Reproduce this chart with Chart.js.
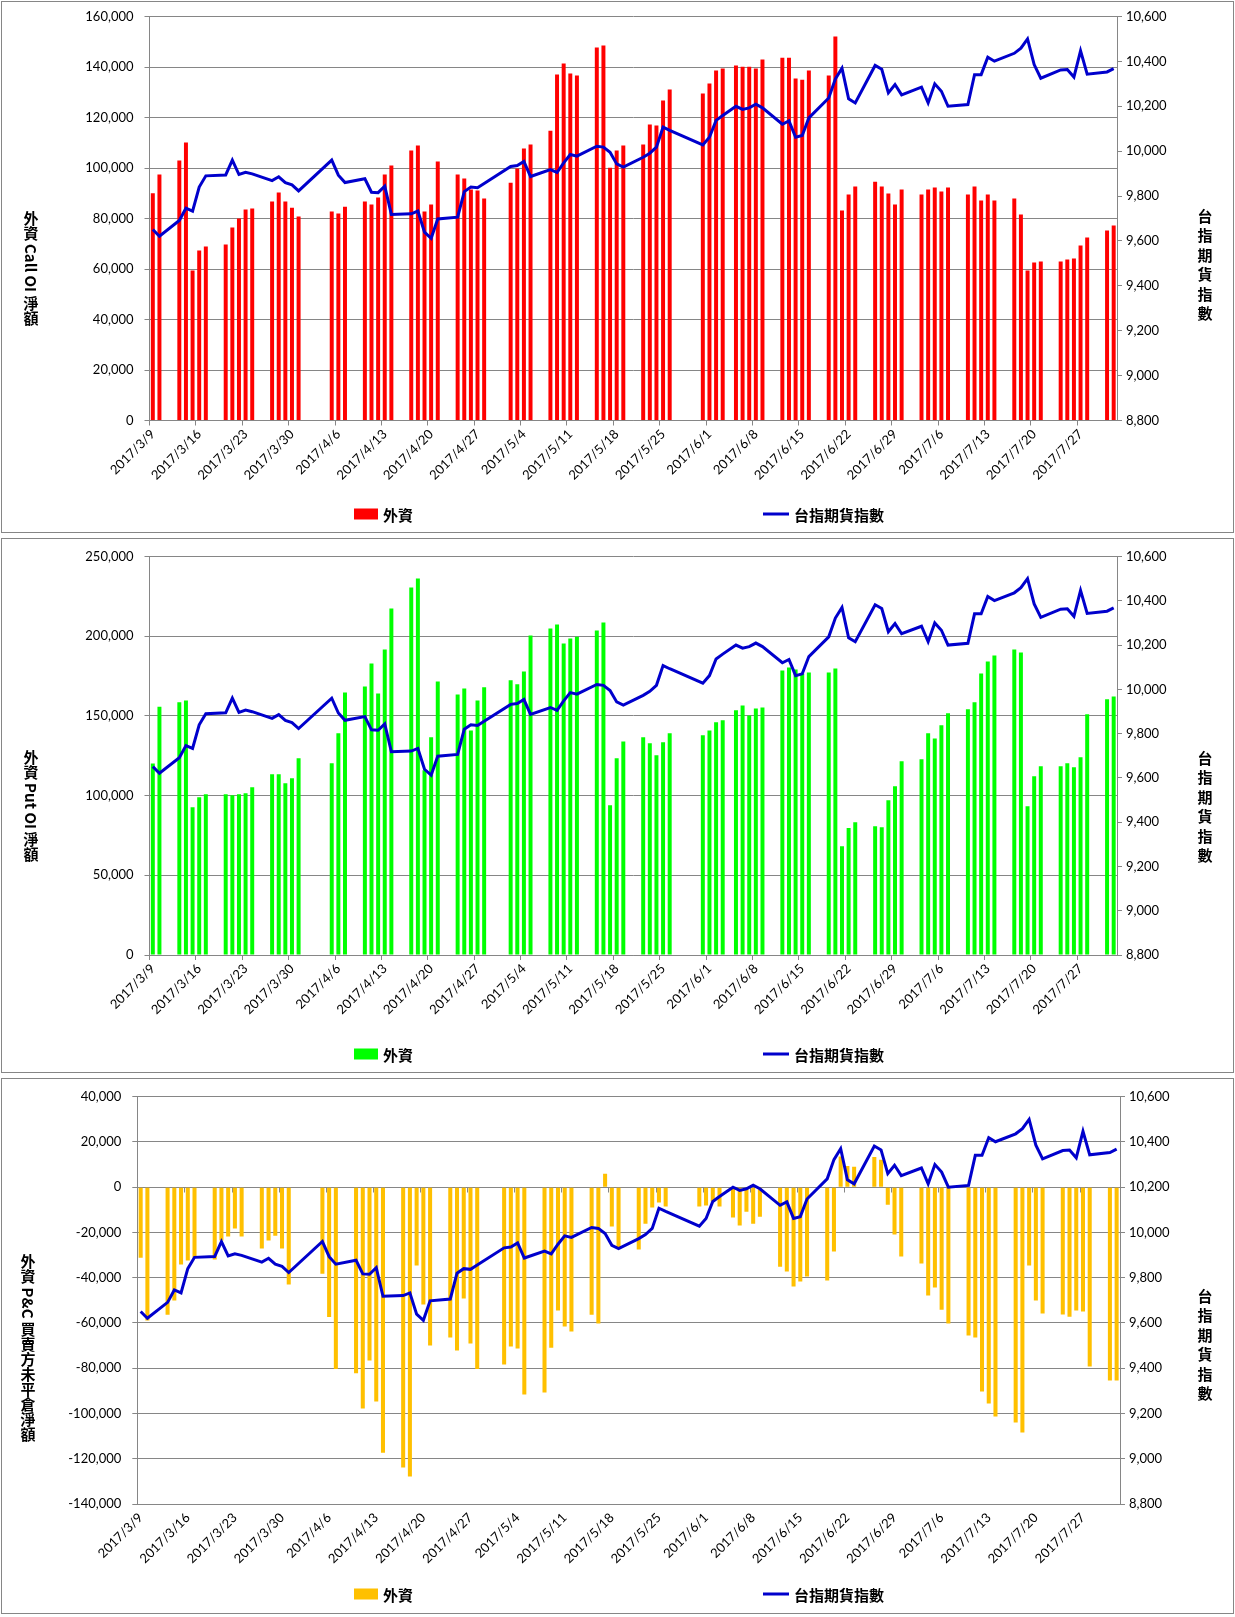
<!DOCTYPE html>
<html lang="zh-Hant">
<head>
<meta charset="utf-8">
<title>外資 Call / Put OI 淨額與台指期貨指數</title>
<script src="https://cdn.jsdelivr.net/npm/chart.js@4.4.1/dist/chart.umd.min.js"></script>
<style>
  html, body { margin: 0; padding: 0; background: #fff; }
  body { position: relative; width: 1235px; height: 1617px; overflow: hidden; }
  .panel { position: absolute; left: 1px; width: 1231px; border: 1px solid #868686; background: #fff; }
  .panel canvas { display: block; }
  .vtitle { position: absolute; transform: translate(-50%, -50%); writing-mode: vertical-rl;
    font: bold 15px "Noto Sans CJK TC", sans-serif; color: #000; white-space: nowrap; line-height: 1; }
  .vtitle.r { letter-spacing: 4.5px; }
  .leg { position: absolute; display: flex; align-items: center; transform: translateY(-50%);
    font: bold 15px "Noto Sans CJK TC", sans-serif; color: #000; white-space: nowrap; }
  .leg .box { width: 24px; height: 11px; margin-right: 5px; }
  .leg .ln { width: 26px; height: 3px; background: #0000cc; margin-right: 5px; }
</style>
</head>
<body>
<div class="panel" style="top:1px;height:530px"><canvas id="c1" width="1231" height="530"></canvas></div>
<div class="panel" style="top:538px;height:533px"><canvas id="c2" width="1231" height="533"></canvas></div>
<div class="panel" style="top:1078px;height:534px"><canvas id="c3" width="1231" height="534"></canvas></div>

<div class="vtitle" style="left:31px;top:268px">外資 Call OI 淨額</div>
<div class="vtitle r" style="left:1205px;top:267px">台指期貨指數</div>
<div class="leg" style="left:354px;top:514px"><span class="box" style="background:#ff0000"></span>外資</div>
<div class="leg" style="left:763px;top:514px"><span class="ln"></span>台指期貨指數</div>

<div class="vtitle" style="left:31px;top:806px">外資 Put OI 淨額</div>
<div class="vtitle r" style="left:1205px;top:809px">台指期貨指數</div>
<div class="leg" style="left:354px;top:1054px"><span class="box" style="background:#00ff00"></span>外資</div>
<div class="leg" style="left:763px;top:1054px"><span class="ln"></span>台指期貨指數</div>

<div class="vtitle" style="left:28px;top:1348px">外資 P&amp;C 買賣方未平倉淨額</div>
<div class="vtitle r" style="left:1205px;top:1347px">台指期貨指數</div>
<div class="leg" style="left:354px;top:1594px"><span class="box" style="background:#ffc000"></span>外資</div>
<div class="leg" style="left:763px;top:1594px"><span class="ln"></span>台指期貨指數</div>

<script>
// trading days shown in the chart
const tradeDates = [
  '2017/3/9','2017/3/10',
  '2017/3/13','2017/3/14','2017/3/15','2017/3/16','2017/3/17',
  '2017/3/20','2017/3/21','2017/3/22','2017/3/23','2017/3/24',
  '2017/3/27','2017/3/28','2017/3/29','2017/3/30','2017/3/31',
  '2017/4/5','2017/4/6','2017/4/7',
  '2017/4/10','2017/4/11','2017/4/12','2017/4/13','2017/4/14',
  '2017/4/17','2017/4/18','2017/4/19','2017/4/20','2017/4/21',
  '2017/4/24','2017/4/25','2017/4/26','2017/4/27','2017/4/28',
  '2017/5/2','2017/5/3','2017/5/4','2017/5/5',
  '2017/5/8','2017/5/9','2017/5/10','2017/5/11','2017/5/12',
  '2017/5/15','2017/5/16','2017/5/17','2017/5/18','2017/5/19',
  '2017/5/22','2017/5/23','2017/5/24','2017/5/25','2017/5/26',
  '2017/5/31','2017/6/1','2017/6/2','2017/6/3',
  '2017/6/5','2017/6/6','2017/6/7','2017/6/8','2017/6/9',
  '2017/6/12','2017/6/13','2017/6/14','2017/6/15','2017/6/16',
  '2017/6/19','2017/6/20','2017/6/21','2017/6/22','2017/6/23',
  '2017/6/26','2017/6/27','2017/6/28','2017/6/29','2017/6/30',
  '2017/7/3','2017/7/4','2017/7/5','2017/7/6','2017/7/7',
  '2017/7/10','2017/7/11','2017/7/12','2017/7/13','2017/7/14',
  '2017/7/17','2017/7/18','2017/7/19','2017/7/20','2017/7/21',
  '2017/7/24','2017/7/25','2017/7/26','2017/7/27','2017/7/28',
  '2017/7/31','2017/8/1'
];

// 外資 Call OI 淨額
const callNet = [
  90000, 97400,
  103000, 110100, 59400, 67300, 68900,
  69700, 76400, 80000, 83600, 84000,
  86700, 90300, 86700, 84300, 80800,
  82800, 82000, 84700,
  86700, 85500, 88300, 97400, 101000,
  106900, 108900, 82800, 85500, 102600,
  97400, 95800, 91500, 91100, 87900,
  94200, 99800, 107700, 109300,
  114800, 137000, 141400, 137400, 136600,
  147700, 148500, 100100, 106900, 108900,
  109300, 117200, 116800, 126700, 131100,
  129500, 133500, 138600, 139400,
  140600, 140100, 140100, 139400, 143000,
  143700, 143700, 135400, 135000, 138600,
  136600, 152100, 83200, 89500, 92700,
  94600, 92700, 89900, 85500, 91500,
  89500, 91500, 92300, 90700, 92300,
  89500, 92700, 87100, 89500, 87100,
  87900, 81600, 59400, 62600, 63000,
  63000, 63800, 64200, 69300, 72500,
  75200, 77200
];

// 外資 Put OI 淨額
const putNet = [
  120100, 155800,
  158500, 159700, 92700, 99000, 100800,
  100800, 100200, 100800, 101500, 105200,
  113400, 113400, 107700, 110900, 123400,
  120300, 139100, 164700,
  168500, 182900, 164100, 191700, 217400,
  230500, 236200, 115900, 136600, 171600,
  163500, 167200, 140900, 159700, 167900,
  172300, 169800, 177900, 200400,
  204800, 207300, 195400, 198600, 199600,
  203600, 208600, 94000, 123400, 134000,
  136600, 132800, 125300, 133400, 139100,
  137800, 140900, 146000, 147200,
  153500, 156600, 150300, 154700, 155300,
  178500, 180400, 179100, 176600, 177300,
  177300, 179800, 68300, 79600, 83300,
  80800, 80200, 97100, 105900, 121500,
  122800, 139100, 135900, 144100, 151600,
  154100, 158500, 176600, 184200, 187900,
  191700, 189800, 93300, 112100, 118400,
  118400, 120300, 117800, 124000, 151000,
  160400, 162200
];

// 外資 P&C 買賣方未平倉淨額
const pcNet = [
  -31200, -58900,
  -56400, -50100, -34200, -32400, -31200,
  -32000, -23600, -21800, -18300, -21800,
  -27100, -23600, -21400, -27100, -43000,
  -38200, -57400, -80300,
  -82200, -97800, -76600, -94700, -117300,
  -123900, -127900, -34600, -51800, -70000,
  -66400, -72200, -49200, -69100, -80300,
  -78400, -70400, -71300, -91600,
  -90700, -70900, -54500, -61600, -63800,
  -56400, -60200, 5900, -17400, -26700,
  -27500, -16100, -9000, -6800, -8500,
  -8500, -8100, -6300, -8500,
  -13400, -16900, -10800, -16100, -13000,
  -35100, -37300, -43900, -41700, -39500,
  -41200, -28400, 13600, 9400, 9000,
  13400, 12100, -7700, -20900, -30600,
  -33700, -47900, -44300, -54100, -60200,
  -65500, -66400, -90300, -95600, -101300,
  -104000, -108400, -34600, -50100, -55800,
  -56300, -57200, -54500, -54900, -79200,
  -85400, -85400
];

// 台指期貨指數
const futIndex = [
  9651, 9621,
  9691, 9746, 9733, 9840, 9890,
  9894, 9960, 9896, 9906, 9899,
  9869, 9886, 9860, 9850, 9823,
  9960, 9893, 9860,
  9877, 9817, 9815, 9844, 9718,
  9721, 9733, 9639, 9612, 9698,
  9706, 9820, 9840, 9837, 9856,
  9932, 9936, 9954, 9887,
  9918, 9905, 9948, 9985, 9978,
  10022, 10018, 9995, 9943, 9929,
  9973, 9991, 10018, 10107, 10093,
  10028, 10062, 10137, 10159,
  10200, 10186, 10193, 10209, 10193,
  10120, 10135, 10062, 10070, 10148,
  10237, 10322, 10370, 10233, 10215,
  10382, 10365, 10260, 10297, 10251,
  10285, 10215, 10300, 10267, 10200,
  10208, 10341, 10341, 10419, 10401,
  10436, 10459, 10500, 10386, 10325,
  10362, 10364, 10330, 10447, 10343,
  10353, 10368
];

// x-axis labels (one per week)
const weekTicks = [
  '2017/3/9','2017/3/16','2017/3/23','2017/3/30','2017/4/6','2017/4/13','2017/4/20',
  '2017/4/27','2017/5/4','2017/5/11','2017/5/18','2017/5/25','2017/6/1','2017/6/8',
  '2017/6/15','2017/6/22','2017/6/29','2017/7/6','2017/7/13','2017/7/20','2017/7/27'
];

// date axis: every calendar day from first to last trade date
const days = [];
(function () {
  const p = s => { const [y, m, d] = s.split('/').map(Number); return new Date(y, m - 1, d); };
  const end = p(tradeDates[tradeDates.length - 1]);
  for (let t = p(tradeDates[0]); t <= end; t.setDate(t.getDate() + 1)) {
    days.push(`${t.getFullYear()}/${t.getMonth() + 1}/${t.getDate()}`);
  }
})();

const tickSet = new Set(weekTicks);
const GRID = '#868686';
const fmt = v => Number(v).toLocaleString('en-US');
const tickFont = { family: 'Lato, "Liberation Sans", sans-serif', size: 13 };
// small line height so the label padding does not push the plot top down
const leftFont = { family: 'Lato, "Liberation Sans", sans-serif', size: 13, lineHeight: 0.5 };
const pairs = vals => vals.map((v, i) => ({ x: tradeDates[i], y: v }));

// Excel draws the date axis tick marks on the zero line for the P&C chart
const zeroTicks = {
  id: 'zeroTicks',
  beforeDatasetsDraw(chart, args, opts) {
    if (!opts.on) return;
    const xs = chart.scales.x, ys = chart.scales.y;
    const half = (xs.getPixelForValue(1) - xs.getPixelForValue(0)) / 2;
    const y0 = Math.round(ys.getPixelForValue(0)) + 0.5;
    const ctx = chart.ctx;
    ctx.save();
    ctx.strokeStyle = GRID;
    ctx.lineWidth = 1;
    ctx.beginPath();
    weekTicks.forEach(lbl => {
      const px = Math.round(xs.getPixelForValue(days.indexOf(lbl)) - half) + 0.5;
      ctx.moveTo(px, y0);
      ctx.lineTo(px, y0 + 5);
    });
    ctx.stroke();
    ctx.restore();
  }
};

function makeChart(id, cfg) {
  return new Chart(document.getElementById(id), {
    type: 'bar',
    data: {
      labels: days,
      datasets: [
        {
          type: 'line', label: '台指期貨指數', data: pairs(futIndex), yAxisID: 'y1',
          borderColor: '#0000cc', borderWidth: 3, pointRadius: 0, tension: 0, order: 0
        },
        {
          type: 'bar', label: '外資', data: pairs(cfg.bars), yAxisID: 'y',
          backgroundColor: cfg.color, borderWidth: 0,
          barPercentage: 0.6, categoryPercentage: 1, order: 1
        }
      ]
    },
    options: {
      responsive: false,
      animation: false,
      events: [],
      layout: { padding: { left: 0, right: 0, top: cfg.padTop, bottom: cfg.padBottom } },
      plugins: { legend: { display: false }, tooltip: { enabled: false }, zeroTicks: { on: !!cfg.zeroTicks } },
      scales: {
        x: {
          type: 'category', offset: true,
          grid: {
            offset: true, drawOnChartArea: false, tickLength: 5,
            color: c => (!cfg.zeroTicks && tickSet.has(days[c.index])) ? GRID : 'rgba(0,0,0,0)'
          },
          border: { color: GRID },
          ticks: {
            autoSkip: false, minRotation: 45, maxRotation: 45, padding: 1,
            font: tickFont, color: '#000',
            callback: (v, i) => tickSet.has(days[i]) ? days[i] : ''
          },
          afterFit: s => { s.height = 70; }
        },
        y: {
          position: 'left', min: cfg.min, max: cfg.max,
          ticks: { stepSize: cfg.step, callback: fmt, font: leftFont, color: '#000', padding: 11 },
          grid: { color: GRID, tickLength: 5 },
          border: { color: GRID },
          afterFit: s => { s.width = cfg.leftW; }
        },
        y1: {
          position: 'right', min: 8800, max: 10600,
          ticks: { stepSize: 200, callback: fmt, font: tickFont, color: '#000', padding: 4 },
          grid: { drawOnChartArea: false, color: GRID, tickLength: 5 },
          border: { color: GRID },
          afterFit: s => { s.width = cfg.rightW; }
        }
      }
    },
    plugins: [zeroTicks]
  });
}

makeChart('c1', { bars: callNet, color: '#ff0000', min: 0, max: 160000, step: 20000,
  leftW: 147.5, rightW: 116, padTop: 14.5, padBottom: 41.5 });
makeChart('c2', { bars: putNet, color: '#00ff00', min: 0, max: 250000, step: 50000,
  leftW: 147.5, rightW: 116, padTop: 17.5, padBottom: 47 });
makeChart('c3', { bars: pcNet, color: '#ffc000', min: -140000, max: 40000, step: 20000,
  leftW: 135.3, rightW: 113, padTop: 17.7, padBottom: 39, zeroTicks: true });
</script>
</body>
</html>
